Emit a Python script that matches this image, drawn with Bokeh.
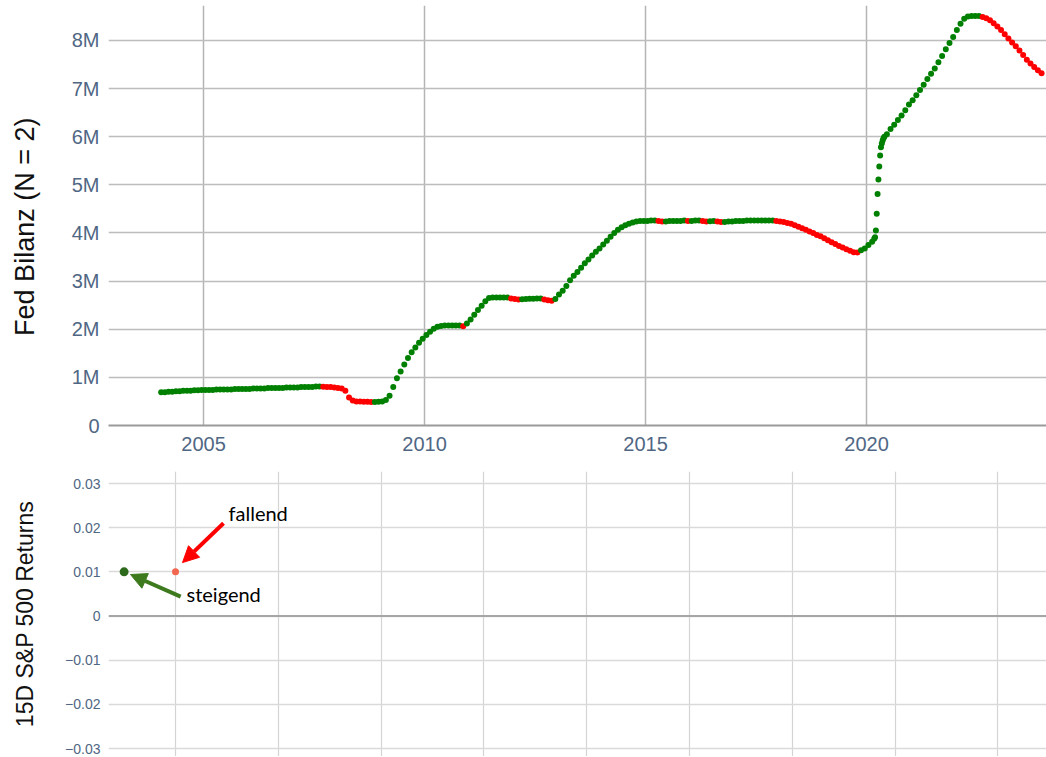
import pandas as pd
from bokeh.plotting import figure
from bokeh.models import (ColumnDataSource, FixedTicker, CustomJSTickFormatter, Span,
                          Arrow, NormalHead, Label, Range1d)
from bokeh.layouts import column
from bokeh.embed import file_html
from bokeh.resources import INLINE

# ---------------- data (Fed balance sheet, in M) ----------------
bilanz_2004 = [0.69, 0.69, 0.70, 0.70, 0.71, 0.71, 0.72, 0.72, 0.72, 0.73, 0.73, 0.74]
bilanz_2005 = [0.74, 0.74, 0.74, 0.75, 0.75, 0.75, 0.75, 0.75, 0.76, 0.76, 0.76, 0.76]
bilanz_2006 = [0.76, 0.77, 0.77, 0.77, 0.77, 0.78, 0.78, 0.78, 0.78, 0.78, 0.79, 0.79]
bilanz_2007 = [0.79, 0.79, 0.80, 0.80, 0.80, 0.80, 0.81, 0.81, 0.806, 0.802, 0.798, 0.79]
bilanz_2008 = [0.78, 0.77, 0.72, 0.58, 0.52, 0.50, 0.497, 0.495, 0.492, 0.488, 0.49, 0.495]
bilanz_2009 = [0.50, 0.53, 0.62, 0.80, 0.98, 1.12, 1.27, 1.40, 1.52, 1.62, 1.72, 1.80]
bilanz_2010 = [1.88, 1.95, 2.01, 2.05, 2.07, 2.08, 2.08, 2.08, 2.08, 2.08, 2.06, 2.12]
bilanz_2011 = [2.20, 2.30, 2.40, 2.49, 2.58, 2.65, 2.66, 2.66, 2.66, 2.66, 2.66, 2.64]
bilanz_2012 = [2.63, 2.62, 2.625, 2.63, 2.635, 2.635, 2.64, 2.64, 2.62, 2.60, 2.59, 2.63]
bilanz_2013 = [2.72, 2.80, 2.90, 3.02, 3.11, 3.19, 3.28, 3.37, 3.45, 3.53, 3.61, 3.68]
bilanz_2014 = [3.76, 3.84, 3.92, 4.00, 4.07, 4.12, 4.16, 4.19, 4.22, 4.24, 4.25, 4.25]
bilanz_2015 = [4.25, 4.26, 4.26, 4.25, 4.24, 4.24, 4.25, 4.25, 4.25, 4.25, 4.26, 4.25]
bilanz_2016 = [4.25, 4.26, 4.26, 4.25, 4.24, 4.245, 4.25, 4.24, 4.23, 4.23, 4.24, 4.24]
bilanz_2017 = [4.25, 4.25, 4.25, 4.26, 4.26, 4.26, 4.26, 4.26, 4.26, 4.26, 4.26, 4.25]
bilanz_2018 = [4.24, 4.23, 4.21, 4.19, 4.16, 4.13, 4.10, 4.07, 4.03, 4.00, 3.96, 3.93]
bilanz_2019 = [3.89, 3.85, 3.81, 3.77, 3.73, 3.70, 3.66, 3.63, 3.60, 3.595, 3.64, 3.68]
bilanz_2020_jan_feb = [3.75, 3.82]
bilanz_2020_weekly = [3.88, 3.91, 4.05, 4.40, 4.81, 5.11, 5.38, 5.61, 5.78, 5.86, 5.92, 5.97, 6.00]
bilanz_2020_jun_dec = [6.05, 6.16, 6.25, 6.35, 6.44, 6.55, 6.67]
bilanz_2021 = [6.76, 6.86, 6.97, 7.08, 7.20, 7.31, 7.42, 7.55, 7.68, 7.82, 7.95, 8.07]
bilanz_2022 = [8.22, 8.35, 8.45, 8.50, 8.51, 8.51, 8.51, 8.49, 8.46, 8.42, 8.36, 8.29]
bilanz_2023 = [8.22, 8.13, 8.04, 7.96, 7.88, 7.79, 7.70, 7.60, 7.52, 7.45, 7.38, 7.32]

year_ticks = [2005, 2010, 2015, 2020]
bilanz_ticks = [0, 1, 2, 3, 4, 5, 6, 7, 8]

returns_x = [0.5, 1.0]
returns_y = [0.01, 0.01]
returns_names = ["steigend", "fallend"]
returns_ticks = [-0.03, -0.02, -0.01, 0, 0.01, 0.02, 0.03]
returns_xgrid = [1, 2, 3, 4, 5, 6, 7, 8, 9]

# ---------------- assemble series ----------------
xs, ys = [], []
def add_months(year, vals, first_month=1):
    for i, v in enumerate(vals):
        m = first_month + i
        xs.append(year + (m - 0.5) / 12.0)
        ys.append(v)

yearly = {2004: bilanz_2004, 2005: bilanz_2005, 2006: bilanz_2006, 2007: bilanz_2007,
          2008: bilanz_2008, 2009: bilanz_2009, 2010: bilanz_2010, 2011: bilanz_2011,
          2012: bilanz_2012, 2013: bilanz_2013, 2014: bilanz_2014, 2015: bilanz_2015,
          2016: bilanz_2016, 2017: bilanz_2017, 2018: bilanz_2018, 2019: bilanz_2019}
for yr, vals in yearly.items():
    add_months(yr, vals)
add_months(2020, bilanz_2020_jan_feb)
weeks = pd.date_range("2020-03-04", periods=len(bilanz_2020_weekly), freq="7D")
for d, v in zip(weeks, bilanz_2020_weekly):
    xs.append(2020 + (d.dayofyear - 1) / 366.0)
    ys.append(v)
add_months(2020, bilanz_2020_jun_dec, first_month=6)
add_months(2021, bilanz_2021)
add_months(2022, bilanz_2022)
add_months(2023, bilanz_2023)

colors = []
for i, v in enumerate(ys):
    if i == 0 or v >= ys[i - 1]:
        colors.append("#008000")
    else:
        colors.append("#ff0000")

src = ColumnDataSource(data=dict(x=xs, y=ys, color=colors))

TICK_COLOR = "#506784"
FONT = "Liberation Sans"

# ---------------- top figure ----------------
p1 = figure(frame_width=938, frame_height=420, min_border_left=108, min_border_right=0,
            min_border_top=5, min_border_bottom=30,
            x_range=Range1d(2002.85, 2024.07), y_range=Range1d(0, 8.727),
            toolbar_location=None, output_backend="svg")
p1.outline_line_color = None
p1.background_fill_color = "white"
p1.scatter("x", "y", source=src, size=6, fill_color="color", line_color=None)

p1.xaxis.ticker = FixedTicker(ticks=year_ticks)
p1.xaxis.major_tick_line_color = None
p1.xaxis.minor_tick_line_color = None
p1.xaxis.axis_line_color = "#9a9a9a"
p1.xaxis.axis_line_width = 2
p1.xaxis.major_label_text_font = FONT
p1.xaxis.major_label_text_font_size = "20px"
p1.xaxis.major_label_text_color = TICK_COLOR
p1.xaxis.major_label_standoff = 5

p1.yaxis.ticker = FixedTicker(ticks=bilanz_ticks)
p1.yaxis.formatter = CustomJSTickFormatter(code="return tick == 0 ? '0' : tick.toFixed(0) + 'M';")
p1.yaxis.major_tick_line_color = None
p1.yaxis.minor_tick_line_color = None
p1.yaxis.axis_line_color = None
p1.yaxis.major_label_text_font = FONT
p1.yaxis.major_label_text_font_size = "20px"
p1.yaxis.major_label_text_color = TICK_COLOR
p1.yaxis.major_label_standoff = 3
p1.yaxis.axis_label = "Fed Bilanz (N = 2)" + "\u00a0" * 3
p1.yaxis.axis_label_text_font = FONT
p1.yaxis.axis_label_text_font_size = "27px"
p1.yaxis.axis_label_text_font_style = "normal"
p1.yaxis.axis_label_text_color = "#111111"
p1.yaxis.axis_label_standoff = 29

p1.xgrid.grid_line_color = "#b4b4b4"
p1.xgrid.grid_line_width = 1.5
p1.ygrid.grid_line_color = "#bdbdbd"
p1.ygrid.grid_line_width = 1.5

# ---------------- bottom figure ----------------
p2 = figure(frame_width=938, frame_height=285, min_border_left=108, min_border_right=0,
            min_border_top=16, min_border_bottom=0,
            x_range=Range1d(0.348, 9.473), y_range=Range1d(-0.03181, 0.03272),
            x_axis_location=None, toolbar_location=None, output_backend="svg")
p2.outline_line_color = None
p2.xgrid.ticker = FixedTicker(ticks=returns_xgrid)
p2.xgrid.grid_line_color = "#d4d4d4"
p2.xgrid.grid_line_width = 1.2
p2.ygrid.grid_line_color = "#dadada"
p2.ygrid.grid_line_width = 1.6

p2.yaxis.ticker = FixedTicker(ticks=returns_ticks)
p2.yaxis.formatter = CustomJSTickFormatter(
    code="return Math.abs(tick) < 1e-9 ? '0' : (tick < 0 ? '\u2212' : '') + Math.abs(tick).toFixed(2);")
p2.yaxis.major_tick_line_color = None
p2.yaxis.minor_tick_line_color = None
p2.yaxis.axis_line_color = None
p2.yaxis.major_label_text_font = FONT
p2.yaxis.major_label_text_font_size = "14px"
p2.yaxis.major_label_text_color = TICK_COLOR
p2.yaxis.major_label_standoff = 2
p2.yaxis.axis_label = "15D S&P 500 Returns"
p2.yaxis.axis_label_text_font = FONT
p2.yaxis.axis_label_text_font_size = "23px"
p2.yaxis.axis_label_text_font_style = "normal"
p2.yaxis.axis_label_text_color = "#111111"
p2.yaxis.axis_label_standoff = 24

p2.add_layout(Span(location=0, dimension="width", line_color="#a6a6a6", line_width=2))

p2.scatter([returns_x[0]], [returns_y[0]], size=9, fill_color="#2e6a1c", line_color=None)
p2.scatter([returns_x[1]], [returns_y[1]], size=7, fill_color="#f2674f", line_color=None)

# arrows and texts, placed relative to the points
red_c = "#ff0000"
green_c = "#3d7a1e"
p2.add_layout(Arrow(end=NormalHead(size=16, fill_color=red_c, line_color=red_c),
                    x_start=returns_x[1] + 0.467, y_start=returns_y[1] + 0.0110,
                    x_end=returns_x[1] + 0.068, y_end=returns_y[1] + 0.0021,
                    line_color=red_c, line_width=4))
p2.add_layout(Arrow(end=NormalHead(size=16, fill_color=green_c, line_color=green_c),
                    x_start=returns_x[0] + 0.55, y_start=returns_y[0] - 0.0056,
                    x_end=returns_x[0] + 0.062, y_end=returns_y[0] - 0.0006,
                    line_color=green_c, line_width=4))
p2.add_layout(Label(x=returns_x[1] + 0.516, y=returns_y[1] + 0.0133, text=returns_names[1],
                    text_font="Lato", text_font_size="20px", text_color="#000000",
                    text_baseline="alphabetic"))
p2.add_layout(Label(x=returns_x[0] + 0.607, y=returns_y[0] - 0.0051, text=returns_names[0],
                    text_font="Lato", text_font_size="20px", text_color="#000000",
                    text_baseline="alphabetic"))

layout = column(p1, p2, spacing=0)
open("out.html", "w").write(file_html(layout, INLINE))
